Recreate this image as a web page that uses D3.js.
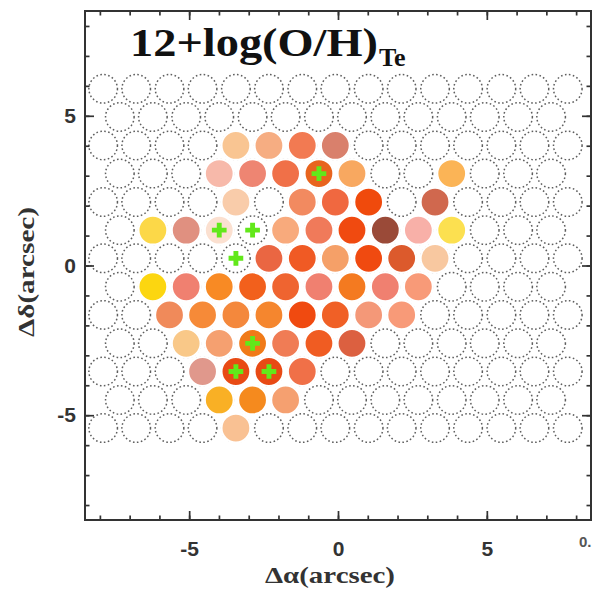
<!DOCTYPE html>
<html>
<head>
<meta charset="utf-8">
<script src="https://cdn.jsdelivr.net/npm/d3@7"></script>
<style>
body { margin: 0; background: #fff; }
</style>
</head>
<body>
<div id="map"></div>
<script>
// fibre grid, offsets in arcsec
var rowDec = [5.90, 4.96, 4.01, 3.07, 2.12, 1.18, 0.24, -0.71, -1.65, -2.60, -3.54, -4.49, -5.43];
var evenRA = [-7.89, -6.78, -5.66, -4.55, -3.43, -2.32, -1.20, -0.09, 1.03, 2.14, 3.26, 4.37, 5.49, 6.60, 7.72];
var oddRA = [-7.33, -6.22, -5.10, -3.99, -2.87, -1.76, -0.64, 0.47, 1.59, 2.70, 3.82, 4.93, 6.05, 7.16];

// fibres with a measured 12+log(O/H): row, column, colour
var fibRow = [2, 2, 2, 2,
              3, 3, 3, 3, 3, 3,
              4, 4, 4, 4, 4,
              5, 5, 5, 5, 5, 5, 5, 5, 5,
              6, 6, 6, 6, 6, 6,
              7, 7, 7, 7, 7, 7, 7, 7, 7,
              8, 8, 8, 8, 8, 8, 8, 8,
              9, 9, 9, 9, 9, 9,
              10, 10, 10, 10,
              11, 11, 11,
              12];
var fibCol = [4, 5, 6, 7,
              3, 4, 5, 6, 7, 10,
              4, 6, 7, 8, 10,
              1, 2, 3, 5, 6, 7, 8, 9, 10,
              5, 6, 7, 8, 9, 10,
              1, 2, 3, 4, 5, 6, 7, 8, 9,
              2, 3, 4, 5, 6, 7, 8, 9,
              2, 3, 4, 5, 6, 7,
              3, 4, 5, 6,
              3, 4, 5,
              4];
var fibColour = ["#f9c592", "#f6ad82", "#f27a52", "#d9806c",
                 "#f7b9aa", "#ee8572", "#f07048", "#e8641e", "#f8a860", "#fbb456",
                 "#f9ccaa", "#f28a60", "#f06840", "#f04a0c", "#d0684e",
                 "#fcd848", "#e09080", "#fbe0d0", "#f8aa7c", "#f07a5a", "#f04a10", "#9a4a38", "#f8b0a8", "#fce050",
                 "#ea6642", "#f05a24", "#f5a068", "#f04a10", "#dc5a2c", "#f8c8a0",
                 "#fcd610", "#f08070", "#f88a24", "#f2601c", "#ef6430", "#f08070", "#f47a20", "#f08070", "#f89a78",
                 "#f08a5a", "#f68a38", "#f4883c", "#f5862e", "#f04a10", "#f06026", "#f49878", "#f89a78",
                 "#f9c888", "#f5a070", "#f07a18", "#f07c55", "#f05c22", "#dc6040",
                 "#e0988c", "#e84a14", "#e84a14", "#f07048",
                 "#f9b025", "#f58a1e", "#f5a070",
                 "#f9c193"];

// fibres marked with a green cross
var crossRow = [3, 5, 5, 6, 9, 10, 10];
var crossCol = [6, 3, 4, 4, 4, 4, 5];

var majorTicks = [-5, 0, 5];
var minorTicks = [-8, -7, -6, -5, -4, -3, -2, -1, 0, 1, 2, 3, 4, 5, 6, 7, 8];

function init() {
    var width = 596;
    var height = 590;
    var left = 85, right = 591, top = 11, bottom = 520;
    var fibreRadius = 0.47;

    var xScale = d3.scaleLinear().domain([-8.5, 8.5]).range([left, right]);
    var yScale = d3.scaleLinear().domain([-8.5, 8.5]).range([bottom, top]);
    var rPix = xScale(fibreRadius) - xScale(0);

    function ra(r, c) {
        return (r % 2 == 0 ? evenRA : oddRA)[c];
    }

    var svg = d3.select("#map")
        .append("svg")
        .attr("width", width)
        .attr("height", height);

    svg.append("rect")
        .attr("x", 0).attr("y", 0)
        .attr("width", width).attr("height", height)
        .attr("fill", "#fff");

    // every fibre of the bundle, dotted
    var grid = [];
    rowDec.forEach(function(dec, r) {
        (r % 2 == 0 ? evenRA : oddRA).forEach(function(a) {
            grid.push([a, dec]);
        });
    });

    svg.append("g")
        .selectAll("circle")
        .data(grid)
        .enter()
        .append("circle")
        .attr("cx", function(d) { return xScale(d[0]); })
        .attr("cy", function(d) { return yScale(d[1]); })
        .attr("r", rPix + 0.3)
        .attr("fill", "none")
        .attr("stroke", "#5e5e5e")
        .attr("stroke-width", 1.5)
        .attr("stroke-dasharray", "1.6 2.4");

    var filled = fibRow.map(function(r, i) {
        return { a: ra(r, fibCol[i]), d: rowDec[r], c: fibColour[i] };
    });

    svg.append("g")
        .selectAll("circle")
        .data(filled)
        .enter()
        .append("circle")
        .attr("cx", function(d) { return xScale(d.a); })
        .attr("cy", function(d) { return yScale(d.d); })
        .attr("r", rPix + 0.5)
        .attr("fill", function(d) { return d.c; })
        .attr("stroke", "#fff")
        .attr("stroke-width", 2.2);

    var crosses = crossRow.map(function(r, i) {
        return [ra(r, crossCol[i]), rowDec[r]];
    });

    svg.append("g")
        .selectAll("path")
        .data(crosses)
        .enter()
        .append("path")
        .attr("d", d3.symbol().type(d3.symbolCross).size(120))
        .attr("transform", function(d) {
            return "translate(" + xScale(d[0]) + "," + yScale(d[1]) + ")";
        })
        .attr("fill", "#62e81a");

    // axes, ticks pointing inward
    function styleAxis(g) {
        g.select(".domain").remove();
        g.selectAll(".tick line").attr("stroke", "#333").attr("stroke-width", 1.7);
        g.selectAll(".tick text")
            .attr("font-family", "'Liberation Sans', Arial, sans-serif")
            .attr("font-weight", "bold")
            .attr("font-size", "21px")
            .attr("fill", "#333");
    }
    var plain = function(d) { return String(d); };

    svg.append("g").attr("transform", "translate(0," + bottom + ")")
        .call(d3.axisBottom(xScale).tickValues(minorTicks).tickSize(-4.5).tickFormat(""))
        .call(styleAxis);
    svg.append("g").attr("transform", "translate(0," + bottom + ")")
        .call(d3.axisBottom(xScale).tickValues(majorTicks).tickSize(-9).tickPadding(21).tickFormat(plain))
        .call(styleAxis);
    svg.append("g").attr("transform", "translate(0," + top + ")")
        .call(d3.axisTop(xScale).tickValues(minorTicks).tickSize(-4.5).tickFormat(""))
        .call(styleAxis);
    svg.append("g").attr("transform", "translate(0," + top + ")")
        .call(d3.axisTop(xScale).tickValues(majorTicks).tickSize(-9).tickFormat(""))
        .call(styleAxis);

    svg.append("g").attr("transform", "translate(" + left + ",0)")
        .call(d3.axisLeft(yScale).tickValues(minorTicks).tickSize(-4.5).tickFormat(""))
        .call(styleAxis);
    svg.append("g").attr("transform", "translate(" + left + ",0)")
        .call(d3.axisLeft(yScale).tickValues(majorTicks).tickSize(-9).tickPadding(9).tickFormat(plain))
        .call(styleAxis);
    svg.append("g").attr("transform", "translate(" + right + ",0)")
        .call(d3.axisRight(yScale).tickValues(minorTicks).tickSize(-4.5).tickFormat(""))
        .call(styleAxis);
    svg.append("g").attr("transform", "translate(" + right + ",0)")
        .call(d3.axisRight(yScale).tickValues(majorTicks).tickSize(-9).tickFormat(""))
        .call(styleAxis);

    svg.append("rect")
        .attr("x", left).attr("y", top)
        .attr("width", right - left).attr("height", bottom - top)
        .attr("fill", "none")
        .attr("stroke", "#333")
        .attr("stroke-width", 2);

    var serif = "'Liberation Serif', 'Times New Roman', serif";

    svg.append("text")
        .attr("x", 130).attr("y", 56)
        .attr("font-family", serif)
        .attr("font-weight", "bold")
        .attr("font-size", "40px")
        .attr("textLength", 248)
        .attr("lengthAdjust", "spacingAndGlyphs")
        .attr("fill", "#111")
        .text("12+log(O/H)");
    svg.append("text")
        .attr("x", 379).attr("y", 66)
        .attr("font-family", serif)
        .attr("font-weight", "bold")
        .attr("font-size", "26px")
        .attr("fill", "#111")
        .text("Te");

    svg.append("text")
        .attr("x", 330).attr("y", 583)
        .attr("text-anchor", "middle")
        .attr("font-family", serif)
        .attr("font-weight", "bold")
        .attr("font-size", "24px")
        .attr("textLength", 130)
        .attr("lengthAdjust", "spacingAndGlyphs")
        .attr("fill", "#333")
        .text("Δα(arcsec)");

    svg.append("text")
        .attr("transform", "translate(34,272) rotate(-90)")
        .attr("text-anchor", "middle")
        .attr("font-family", serif)
        .attr("font-weight", "bold")
        .attr("font-size", "24px")
        .attr("textLength", 130)
        .attr("lengthAdjust", "spacingAndGlyphs")
        .attr("fill", "#333")
        .text("Δδ(arcsec)");

    svg.append("text")
        .attr("x", 579).attr("y", 547)
        .attr("font-family", "'Liberation Sans', Arial, sans-serif")
        .attr("font-weight", "bold")
        .attr("font-size", "15px")
        .attr("fill", "#555")
        .text("0.");
}
window.onload = init;
</script>
</body>
</html>
